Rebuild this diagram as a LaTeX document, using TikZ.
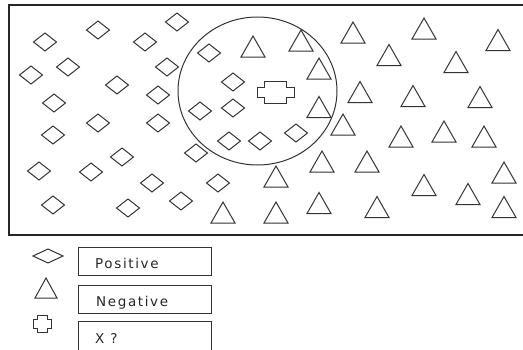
\documentclass[tikz,border=0pt]{standalone}
\usepackage{fontspec}
\newfontfamily\legfont[LetterSpace=12]{DejaVu Sans}
\usetikzlibrary{shapes.geometric}
\begin{document}
\begin{tikzpicture}[x=1pt,y=-1pt,
  sym/.style={draw=black!80, line width=1pt, line join=miter},
  frameline/.style={draw=black!85, line width=1.3pt},
  legbox/.style={draw=black!80, line width=1pt, minimum width=133pt, minimum height=28pt, inner sep=0pt, anchor=north west},
  legtext/.style={anchor=base west, inner sep=0pt, font=\legfont\fontsize{13.5}{15}\selectfont, text=black!85},
  pics/dia/.style={code={\draw[sym] (-11.5,0)--(0,-9)--(11.5,0)--(0,9)--cycle;}},
  pics/tri/.style={code={\draw[sym] (-12,10.5)--(0,-10.5)--(12,10.5)--cycle;}},
  pics/smalltri/.style={code={\draw[sym] (-11,10)--(0,-10)--(11,10)--cycle;}},
  pics/cross/.style={code={\draw[sym] (-11,-11)--(11,-11)--(11,-5)--(18.5,-5)--(18.5,5)--(11,5)--(11,11)--(-11,11)--(-11,5)--(-18.5,5)--(-18.5,-5)--(-11,-5)--cycle;}},
  pics/smallcross/.style={code={\draw[sym] (-5,-8.5)--(5,-8.5)--(5,-4.5)--(9,-4.5)--(9,4.5)--(5,4.5)--(5,8.5)--(-5,8.5)--(-5,4.5)--(-9,4.5)--(-9,-4.5)--(-5,-4.5)--cycle;}}
]
\useasboundingbox (0,0) rectangle (523,349);
\clip (0,0) rectangle (523,349);
% frame
\draw[frameline] (530,5) -| (9,235) -- (530,235);
% neighbourhood
\node[ellipse, draw=black!80, line width=1pt, minimum width=159pt, minimum height=148pt, inner sep=0pt] (region) at (257.5,91) {};
% positives
\foreach \x/\y [count=\i] in {45/42,98/30,145/42,177/22,209/53,31/75,68/67,167/67,117/85,158/95,233/82,54/103,200/111,233/108,98/123,158/123,53/135,229/141,260/141,296/133,196/153,122/157,39/171,91/172,152/183,218/183,53/205,128/208,181/201}
  \pic (p\i) at (\x,\y) {dia};
% negatives
\foreach \x/\y [count=\i] in {253/46.5,301/40.5,319/68.5,319/107,353/32.5,424/28.5,498/40,389/55,456/62,360/92,413/96,480/97,343/124.5,401/136.5,444/131.5,484/136.5,367/161.5,322/161.5,504/172.5,424/185,468/194,377/207,504/207,276/176.5,223/212.5,276/212.5,319/203}
  \pic (n\i) at (\x,\y) {tri};
% query point
\pic (q) at (275.5,92) {cross};
% legend symbols
\draw[sym] (33,256) -- (48,249) -- (63,256) -- (48,263) -- cycle;
\pic (lt) at (46,288) {smalltri};
\pic (lc) at (42,323.5) {smallcross};
% legend boxes
\node[legbox] (bpos) at (78,247) {};
\node[legbox] (bneg) at (78,285) {};
\draw[draw=black!80, line width=1pt] (78,352) |- (211,321) -- (211,352);
\coordinate (bx) at (78,321);
\node[legtext] (tpos) at (95,268) {Positive};
\node[legtext] (tneg) at (96,306) {Negative};
\node[legtext] (tx) at (95,343) {X ?};
\end{tikzpicture}
\end{document}
